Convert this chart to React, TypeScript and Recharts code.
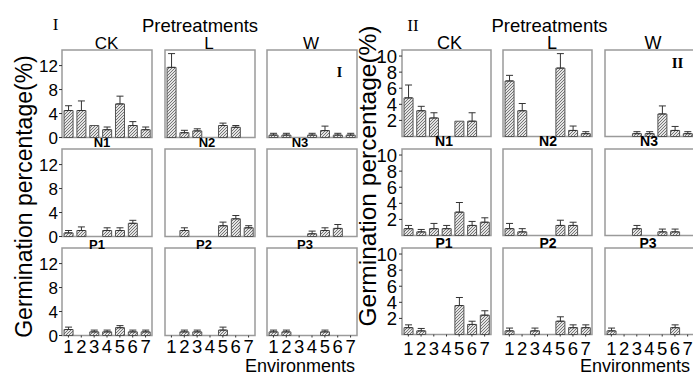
import React from 'react';
import { BarChart, Bar, XAxis, YAxis, ErrorBar, ReferenceArea } from 'recharts';

// ---------- data ----------
const envs = ['1', '2', '3', '4', '5', '6', '7'];
const pretreatments = ['CK', 'L', 'W'];
const row1Labels = ['N1', 'N2', 'N3'];
const row2Labels = ['P1', 'P2', 'P3'];
const panelITicks = [0, 4, 8, 12];
const panelIITicks = [2, 4, 6, 8, 10];

// Panel I : mean germination (%) and upper error length
const I_r1_CK = [4.5, 4.5, 2.0, 1.3, 5.6, 2.0, 1.3];
const I_r1_CK_err = [0.8, 1.6, null, 0.45, 1.3, 0.65, 0.45];
const I_r1_L = [11.7, 0.8, 1.1, 0, 2.0, 1.7, 0];
const I_r1_L_err = [2.3, 0.4, 0.35, null, 0.4, 0.3, null];
const I_r1_W = [0.4, 0.4, 0, 0.4, 1.15, 0.4, 0.4];
const I_r1_W_err = [0.3, 0.3, null, 0.3, 0.75, 0.3, 0.3];

const I_r2_CK = [0.6, 1.0, 0, 1.0, 1.0, 2.2, 0];
const I_r2_CK_err = [0.4, 0.6, null, 0.45, 0.45, 0.5, null];
const I_r2_L = [0, 1.0, 0, 0, 1.8, 2.95, 1.45];
const I_r2_L_err = [null, 0.45, null, null, 0.6, 0.55, 0.35];
const I_r2_W = [0, 0, 0, 0.45, 1.0, 1.35, 0];
const I_r2_W_err = [null, null, null, 0.45, 0.45, 0.65, null];

const I_r3_CK = [1.0, 0, 0.6, 0.6, 1.3, 0.6, 0.6];
const I_r3_CK_err = [0.4, null, 0.3, 0.3, 0.35, 0.3, 0.3];
const I_r3_L = [0, 0.6, 0.6, 0, 0.9, 0, 0];
const I_r3_L_err = [null, 0.3, 0.3, null, 0.5, null, null];
const I_r3_W = [0.6, 0.6, 0, 0, 0.6, 0, 0];
const I_r3_W_err = [0.3, 0.3, null, null, 0.3, null, null];

// Panel II
const II_r1_CK = [4.8, 3.2, 2.3, 0, 1.9, 1.9, 0];
const II_r1_CK_err = [1.6, 0.55, 0.65, null, null, 1.05, null];
const II_r1_L = [6.9, 3.2, 0, 0, 8.5, 0.75, 0.35];
const II_r1_L_err = [0.7, 0.9, null, null, 1.8, 0.55, 0.25];
const II_r1_W = [0, 0, 0.35, 0.35, 2.8, 0.75, 0.35];
const II_r1_W_err = [null, null, 0.25, 0.25, 1.0, 0.5, 0.25];

const II_r2_CK = [0.85, 0.45, 0.85, 0.85, 2.9, 1.25, 1.65];
const II_r2_CK_err = [0.4, 0.3, 0.65, 0.4, 1.2, 0.5, 0.55];
const II_r2_L = [0.85, 0.45, 0, 0, 1.25, 1.25, 0];
const II_r2_L_err = [0.65, 0.4, null, null, 0.65, 0.4, null];
const II_r2_W = [0, 0, 0.85, 0, 0.45, 0.45, 0];
const II_r2_W_err = [null, null, 0.4, null, 0.35, 0.35, null];

const II_r3_CK = [0.85, 0.45, 0, 0, 3.6, 1.25, 2.4];
const II_r3_CK_err = [0.35, 0.3, null, null, 1.0, 0.4, 0.55];
const II_r3_L = [0.45, 0, 0.45, 0, 1.65, 0.85, 0.85];
const II_r3_L_err = [0.35, null, 0.35, null, 0.55, 0.35, 0.35];
const II_r3_W = [0.45, 0, 0, 0, 0, 0.85, 0];
const II_r3_W_err = [0.35, null, null, null, null, 0.35, null];

const makeData = (vals: number[], errs: (number | null)[]) =>
  envs.map((env, i) => ({
    env,
    v: vals[i],
    e: errs[i] == null ? null : [0, errs[i] as number],
  }));

const panelIData = [
  [makeData(I_r1_CK, I_r1_CK_err), makeData(I_r1_L, I_r1_L_err), makeData(I_r1_W, I_r1_W_err)],
  [makeData(I_r2_CK, I_r2_CK_err), makeData(I_r2_L, I_r2_L_err), makeData(I_r2_W, I_r2_W_err)],
  [makeData(I_r3_CK, I_r3_CK_err), makeData(I_r3_L, I_r3_L_err), makeData(I_r3_W, I_r3_W_err)],
];
const panelIIData = [
  [makeData(II_r1_CK, II_r1_CK_err), makeData(II_r1_L, II_r1_L_err), makeData(II_r1_W, II_r1_W_err)],
  [makeData(II_r2_CK, II_r2_CK_err), makeData(II_r2_L, II_r2_L_err), makeData(II_r2_W, II_r2_W_err)],
  [makeData(II_r3_CK, II_r3_CK_err), makeData(II_r3_L, II_r3_L_err), makeData(II_r3_W, II_r3_W_err)],
];

// ---------- layout ----------
const SANS = 'Liberation Sans, Arial, Helvetica, sans-serif';
const SERIF = 'Liberation Serif, Times New Roman, serif';
const ML = 40;
const MT = 4;
const MR = 4;

type PanelCfg = {
  key: string;
  data: any[][][];
  colX: number[];
  rowY: number[];
  boxW: number;
  boxH: number;
  yMax: number;
  ticks: number[];
  yTickFont: number;
  yTickMargin: number;
  xTickFont: number;
  xTickMargin: number;
};

const panels: PanelCfg[] = [
  {
    key: 'I',
    data: panelIData,
    colX: [62, 164.5, 267],
    rowY: [50, 149, 248],
    boxW: 90,
    boxH: 87.5,
    yMax: 14.6,
    ticks: panelITicks,
    yTickFont: 17,
    yTickMargin: 1,
    xTickFont: 18.5,
    xTickMargin: 2,
  },
  {
    key: 'II',
    data: panelIIData,
    colX: [402, 503, 605],
    rowY: [50, 149, 248],
    boxW: 89,
    boxH: 86.5,
    yMax: 10.75,
    ticks: panelIITicks,
    yTickFont: 18.5,
    yTickMargin: 2,
    xTickFont: 18.5,
    xTickMargin: 5,
  },
];

function SmallChart({ p, r, c }: { p: PanelCfg; r: number; c: number }) {
  const bottom = r === 2;
  const MB = bottom ? 26 : 10;
  const pid = `hatch-${p.key}-${r}-${c}`;
  return (
    <div
      style={{
        position: 'absolute',
        left: p.colX[c] - ML,
        top: p.rowY[r] - MT,
      }}
    >
      <BarChart
        width={ML + p.boxW + MR}
        height={MT + p.boxH + MB}
        data={p.data[r][c]}
        margin={{ top: MT, right: MR, bottom: 0, left: 0 }}
        barCategoryGap="16%"
      >
        <defs>
          <pattern id={pid} patternUnits="userSpaceOnUse" width="3" height="3">
            <rect width="3" height="3" fill="#e4e4e4" />
            <path
              d="M-0.75,0.75 L0.75,-0.75 M0,3 L3,0 M2.25,3.75 L3.75,2.25"
              stroke="#6a6a6a"
              strokeWidth="0.9"
            />
          </pattern>
        </defs>
        <XAxis
          dataKey="env"
          height={MB}
          interval={0}
          axisLine={false}
          tickSize={2}
          tickMargin={p.xTickMargin}
          tickLine={{ stroke: '#333' }}
          tick={bottom ? { fontSize: p.xTickFont, fill: '#000', fontFamily: SANS } : false}
        />
        <YAxis
          width={ML}
          type="number"
          domain={[0, p.yMax]}
          ticks={p.ticks}
          interval={0}
          axisLine={false}
          tickSize={3}
          tickMargin={p.yTickMargin}
          tickLine={{ stroke: '#333' }}
          tick={c === 0 ? { fontSize: p.yTickFont, fill: '#000', fontFamily: SANS } : false}
        />
        <ReferenceArea y1={0} y2={p.yMax} fill="none" stroke="#9a9a9a" strokeWidth={1.5} />
        <Bar dataKey="v" fill={`url(#${pid})`} stroke="#555" strokeWidth={1} isAnimationActive={false}>
          <ErrorBar dataKey="e" direction="y" width={3.5} stroke="#333" strokeWidth={1} />
        </Bar>
      </BarChart>
    </div>
  );
}

function Overlay() {
  return (
    <svg
      width={693}
      height={375}
      style={{ position: 'absolute', left: 0, top: 0, pointerEvents: 'none' }}
    >
      {/* Panel I */}
      <text x={55.5} y={30} fontFamily={SERIF} fontSize={17} textAnchor="middle">I</text>
      <text x={200} y={32} fontFamily={SANS} fontSize={18.5} textAnchor="middle">Pretreatments</text>
      {pretreatments.map((t, i) => (
        <text key={'Ic' + t} x={[106.5, 209, 311][i]} y={49} fontFamily={SANS} fontSize={17} textAnchor="middle">
          {t}
        </text>
      ))}
      <text x={339.5} y={77} fontFamily={SERIF} fontWeight="bold" fontSize={14} textAnchor="middle">I</text>
      {row1Labels.map((t, i) => (
        <text key={'In' + t} x={[102, 207, 300][i]} y={147} fontFamily={SANS} fontWeight="bold" fontSize={13} textAnchor="middle">
          {t}
        </text>
      ))}
      {row2Labels.map((t, i) => (
        <text key={'Ip' + t} x={[97, 204, 305][i]} y={249} fontFamily={SANS} fontWeight="bold" fontSize={13} textAnchor="middle">
          {t}
        </text>
      ))}
      <text x={355} y={372} fontFamily={SANS} fontSize={18} textAnchor="end">Environments</text>
      <text
        transform="translate(32,196.5) rotate(-90)"
        fontFamily={SANS}
        fontSize={23}
        textAnchor="middle"
      >
        Germination percentage(%)
      </text>

      {/* Panel II */}
      <text x={413} y={31} fontFamily={SERIF} fontSize={17} textAnchor="middle">II</text>
      <text x={549.5} y={32} fontFamily={SANS} fontSize={18.5} textAnchor="middle">Pretreatments</text>
      {pretreatments.map((t, i) => (
        <text key={'IIc' + t} x={[449.5, 552, 653][i]} y={49} fontFamily={SANS} fontSize={18} textAnchor="middle">
          {t}
        </text>
      ))}
      <text x={677.5} y={68} fontFamily={SERIF} fontWeight="bold" fontSize={15} textAnchor="middle">II</text>
      {row1Labels.map((t, i) => (
        <text key={'IIn' + t} x={[444, 548, 649][i]} y={146} fontFamily={SANS} fontWeight="bold" fontSize={14} textAnchor="middle">
          {t}
        </text>
      ))}
      {row2Labels.map((t, i) => (
        <text key={'IIp' + t} x={[444, 548, 648][i]} y={248} fontFamily={SANS} fontWeight="bold" fontSize={14} textAnchor="middle">
          {t}
        </text>
      ))}
      <text x={690} y={372} fontFamily={SANS} fontSize={18} textAnchor="end">Environments</text>
      <text
        transform="translate(376,176) rotate(-90)"
        fontFamily={SANS}
        fontSize={24.5}
        textAnchor="middle"
      >
        Germination percentage(%)
      </text>
    </svg>
  );
}

export default function App() {
  return (
    <div
      style={{
        position: 'absolute',
        left: 0,
        top: 0,
        width: 693,
        height: 375,
        background: '#fff',
        overflow: 'hidden',
      }}
    >
      {panels.map((p) =>
        [0, 1, 2].map((r) =>
          [0, 1, 2].map((c) => <SmallChart key={`${p.key}-${r}-${c}`} p={p} r={r} c={c} />)
        )
      )}
      <Overlay />
    </div>
  );
}
